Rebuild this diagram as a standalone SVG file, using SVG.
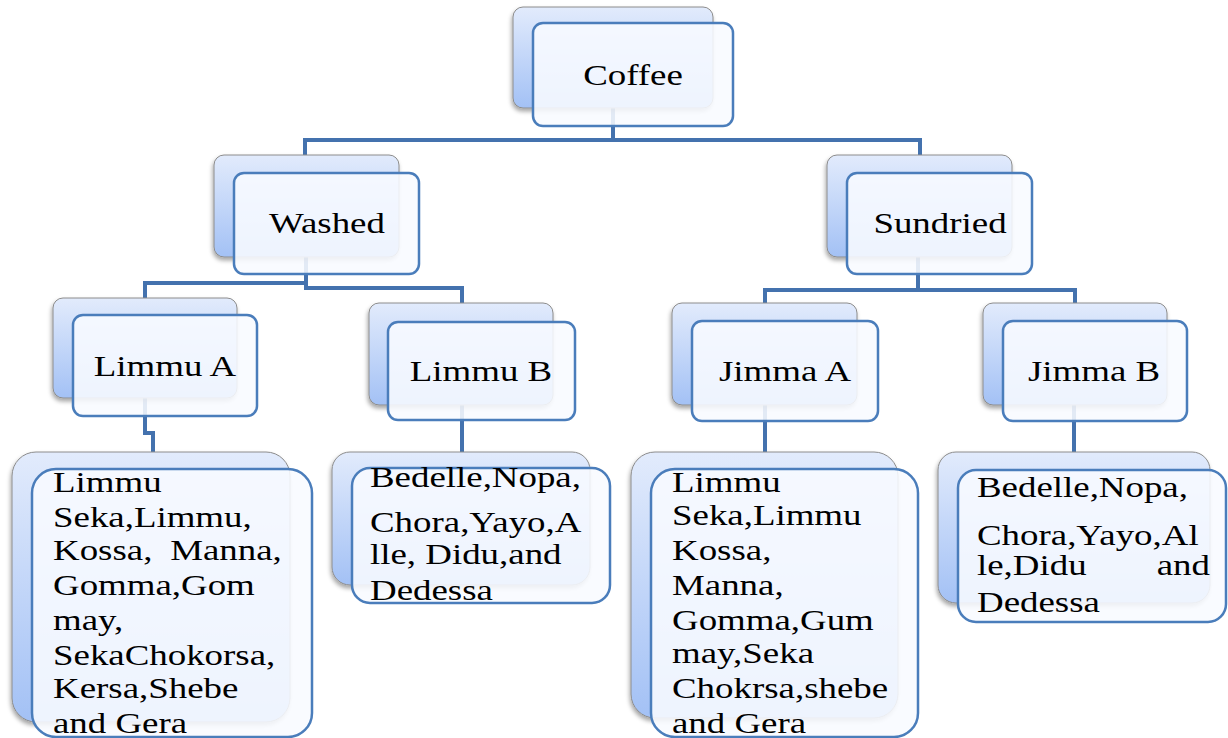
<svg xmlns="http://www.w3.org/2000/svg" width="1228" height="738" viewBox="0 0 1228 738">
<defs>
<linearGradient id="backGrad" x1="0" y1="0" x2="0" y2="1">
<stop offset="0" stop-color="#e2ebfc"/>
<stop offset="1" stop-color="#a3c1f5"/>
</linearGradient>
<filter id="shadow" x="-10%" y="-10%" width="125%" height="125%">
<feDropShadow dx="-1" dy="3" stdDeviation="2" flood-color="#000" flood-opacity="0.35"/>
</filter>
</defs>
<style>
.back{fill:url(#backGrad);stroke:#8c8c8c;stroke-width:1;filter:url(#shadow)}
.front{fill:#f8faff;fill-opacity:0.88;stroke:#4a7dbb;stroke-width:2.5}
.conn{fill:none;stroke:#4472ae;stroke-width:4}
.t{font-family:"Liberation Serif","Times New Roman",serif;font-size:30px;fill:#000}
.c{text-anchor:middle}
</style>
<rect width="1228" height="738" fill="#fff"/>
<g id="connectors">
<path class="conn" d="M613 107 V140 M305 155 V140 H920 V155"/>
<path class="conn" d="M145 298 V283 H306 M306 257 V288 H462 V303"/>
<path class="conn" d="M918 257 V290 M765 303 V290 H1075 V303"/>
<path class="conn" d="M145 398 V433 H153 V452"/>
<path class="conn" d="M462 405 V452"/>
<path class="conn" d="M765 405 V452"/>
<path class="conn" d="M1074 405 V452"/>
</g>
<g id="coffee">
<rect class="back" x="513" y="7" width="200" height="101" rx="10"/>
<rect class="front" x="533" y="23" width="200" height="103" rx="10"/>
<text class="t c" transform="translate(633,0) scale(1.23,1)" x="0" y="85">Coffee</text>
</g>
<g id="washed">
<rect class="back" x="214" y="155" width="185" height="102" rx="10"/>
<rect class="front" x="234" y="173" width="185" height="101" rx="10"/>
<text class="t c" transform="translate(327,0) scale(1.23,1)" x="0" y="233">Washed</text>
</g>
<g id="sundried">
<rect class="back" x="827" y="155" width="185" height="102" rx="10"/>
<rect class="front" x="847" y="173" width="185" height="101" rx="10"/>
<text class="t c" transform="translate(940,0) scale(1.23,1)" x="0" y="233">Sundried</text>
</g>
<g id="limmuA">
<rect class="back" x="53" y="298" width="184" height="100" rx="10"/>
<rect class="front" x="73" y="315" width="184" height="101" rx="10"/>
<text class="t c" transform="translate(165,0) scale(1.23,1)" x="0" y="376">Limmu A</text>
</g>
<g id="limmuB">
<rect class="back" x="369" y="303" width="184" height="102" rx="10"/>
<rect class="front" x="388" y="322" width="187" height="98" rx="10"/>
<text class="t c" transform="translate(481,0) scale(1.23,1)" x="0" y="381">Limmu B</text>
</g>
<g id="jimmaA">
<rect class="back" x="672" y="303" width="185" height="102" rx="10"/>
<rect class="front" x="692" y="321" width="186" height="100" rx="10"/>
<text class="t c" transform="translate(785,0) scale(1.23,1)" x="0" y="381">Jimma A</text>
</g>
<g id="jimmaB">
<rect class="back" x="983" y="303" width="184" height="102" rx="10"/>
<rect class="front" x="1003" y="321" width="184" height="100" rx="10"/>
<text class="t c" transform="translate(1094,0) scale(1.23,1)" x="0" y="381">Jimma B</text>
</g>
<g id="leafLimmuA">
<rect class="back" x="12" y="452" width="278" height="270" rx="24"/>
<rect class="front" x="32" y="469" width="280" height="268" rx="24"/>
<g class="t" transform="translate(53,0) scale(1.23,1)">
<text x="0" y="492">Limmu</text>
<text x="0" y="527">Seka,Limmu,</text>
<text x="0" y="560" word-spacing="7">Kossa, Manna,</text>
<text x="0" y="595">Gomma,Gom</text>
<text x="0" y="630">may,</text>
<text x="0" y="665">SekaChokorsa,</text>
<text x="0" y="698">Kersa,Shebe</text>
<text x="0" y="733">and Gera</text>
</g>
</g>
<g id="leafLimmuB">
<rect class="back" x="332" y="452" width="258" height="133" rx="18"/>
<rect class="front" x="352" y="468" width="258" height="135" rx="18"/>
<g class="t" transform="translate(370,0) scale(1.23,1)">
<text x="0" y="487">Bedelle,Nopa,</text>
<text x="0" y="532">Chora,Yayo,A</text>
<text x="0" y="564">lle, Didu,and</text>
<text x="0" y="600">Dedessa</text>
</g>
</g>
<g id="leafJimmaA">
<rect class="back" x="631" y="452" width="267" height="266" rx="24"/>
<rect class="front" x="651" y="469" width="267" height="268" rx="24"/>
<g class="t" transform="translate(672,0) scale(1.23,1)">
<text x="0" y="492">Limmu</text>
<text x="0" y="525">Seka,Limmu</text>
<text x="0" y="560">Kossa,</text>
<text x="0" y="595">Manna,</text>
<text x="0" y="630">Gomma,Gum</text>
<text x="0" y="663">may,Seka</text>
<text x="0" y="698">Chokrsa,shebe</text>
<text x="0" y="733">and Gera</text>
</g>
</g>
<g id="leafJimmaB">
<rect class="back" x="938" y="452" width="272" height="151" rx="18"/>
<rect class="front" x="958" y="470" width="268" height="152" rx="18"/>
<g class="t" transform="translate(977,0) scale(1.23,1)">
<text x="0" y="497">Bedelle,Nopa,</text>
<text x="0" y="545">Chora,Yayo,Al</text>
<text y="575"><tspan x="0">le,Didu</tspan><tspan x="189.4" text-anchor="end">and</tspan></text>
<text x="0" y="612">Dedessa</text>
</g>
</g>
</svg>
